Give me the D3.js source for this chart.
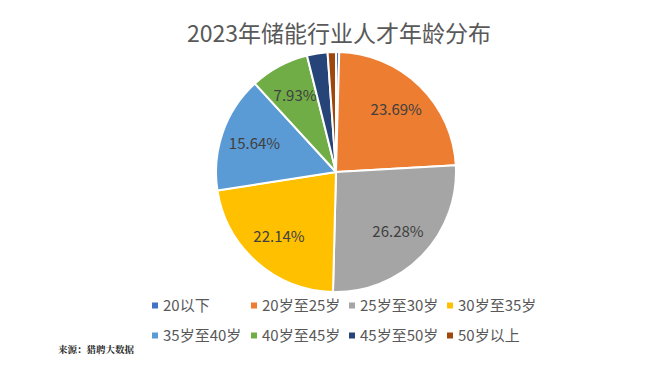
<!DOCTYPE html>
<html><head><meta charset="utf-8">
<script src="https://cdn.jsdelivr.net/npm/d3@7"></script>
<style>body{margin:0;background:#fff;}svg{display:block;}</style>
</head><body>
<svg id="c" width="668" height="369"></svg>
<script>
const categories = ["20以下","20岁至25岁","25岁至30岁","30岁至35岁","35岁至40岁","40岁至45岁","45岁至50岁","50岁以上"];
const values = [0.43, 23.69, 26.28, 22.14, 15.64, 7.93, 2.77, 1.12];
const labels = ["", "23.69%", "26.28%", "22.14%", "15.64%", "7.93%", "", ""];
const colors = ["#4472C4","#ED7D31","#A5A5A5","#FFC000","#5B9BD5","#70AD47","#264478","#9E480E"];
const title = "2023年储能行业人才年龄分布";
const source = "来源：猎聘大数据";

const font = "'Noto Sans CJK SC','Microsoft YaHei',sans-serif";
const svg = d3.select("#c");
const cx = 336, cy = 172, R = 120;

svg.append("text").attr("x", 339).attr("y", 42).attr("text-anchor","middle")
  .attr("font-family", font).attr("font-size", 23).attr("fill","#595959").text(title);

const pie = d3.pie().value(d => d).sort(null);
const arcs = pie(values);
const arc = d3.arc().innerRadius(0).outerRadius(R);
const labArc = d3.arc().innerRadius(R*0.72).outerRadius(R*0.72);
const g = svg.append("g").attr("transform", `translate(${cx},${cy})`);
g.selectAll("path").data(arcs).join("path")
  .attr("d", arc).attr("fill", (d,i) => colors[i])
  .attr("stroke", "#fff").attr("stroke-width", 2).attr("stroke-linejoin","round");
g.selectAll("text.lab").data(arcs).join("text").attr("class","lab")
  .attr("transform", d => `translate(${labArc.centroid(d)})`)
  .attr("text-anchor","middle").attr("dy","0.35em")
  .attr("font-family", font).attr("font-size", 15).attr("fill","#404040")
  .text((d,i) => labels[i]);

// legend
const colX = [152, 251, 349, 447];
const rowY = [306, 336];
const lg = svg.append("g");
categories.forEach((c, i) => {
  const x = colX[i % 4], y = rowY[Math.floor(i / 4)];
  lg.append("rect").attr("x", x).attr("y", y - 3.5).attr("width", 6).attr("height", 6).attr("fill", colors[i]);
  lg.append("text").attr("x", x + 11).attr("y", y).attr("dy","0.35em")
    .attr("font-family", font).attr("font-size", 15).attr("fill","#595959").text(c);
});

svg.append("text").attr("x", 58).attr("y", 353)
  .attr("font-family", "'Noto Serif CJK SC','Noto Sans CJK SC',serif").attr("font-size", 9.5).attr("font-weight","bold")
  .attr("fill","#222").text(source);
</script>
</body></html>
